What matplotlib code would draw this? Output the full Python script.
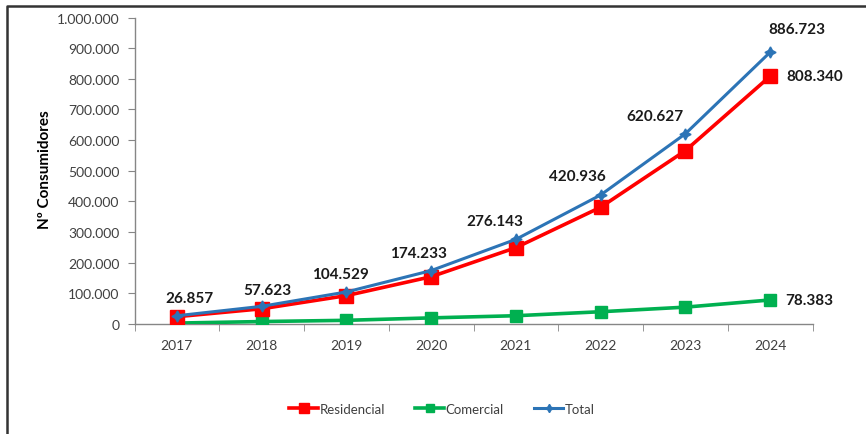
import matplotlib
matplotlib.use("Agg")
import matplotlib.pyplot as plt
from matplotlib.lines import Line2D
from matplotlib.ticker import FuncFormatter, FixedLocator, MultipleLocator

plt.rcParams['font.family'] = ['Lato', 'DejaVu Sans']

years = ['2017', '2018', '2019', '2020', '2021', '2022', '2023', '2024']
residencial = [23857, 49623, 92529, 154233, 249143, 380936, 565627, 808340]
comercial = [3000, 8000, 12000, 20000, 27000, 40000, 55000, 78383]
total = [26857, 57623, 104529, 174233, 276143, 420936, 620627, 886723]

# label offsets (points) for the Total series annotations
total_label_offsets = [(9, 13), (4, 12), (-4, 13), (-9, 13), (-15, 13), (-17, 14), (-22, 13), (19, 17)]

W, H = 866, 435
fig = plt.figure(figsize=(W / 100, H / 100), dpi=100)
ax = fig.add_axes([134.5 / W, 1 - 325 / H, (812.5 - 134.5) / W, (325 - 18.5) / H])

x = list(range(len(years)))
blue = '#2C74B6'
red = '#FF0000'
green = '#00B050'

ax.plot(x, comercial, color=green, lw=2.6, marker='s', ms=8, mec=green, zorder=3, label='Comercial')
ax.plot(x, residencial, color=red, lw=2.6, marker='s', ms=10, mec=red, zorder=4, label='Residencial')
ax.plot(x, total, color=blue, lw=2.2, marker=(4, 1, 0), ms=8, mec=blue, zorder=5, label='Total')

ax.set_xlim(-0.5, len(years) - 0.5)
ax.set_ylim(0, 1000000)

def fmt(v):
    return f"{int(round(v)):,}".replace(',', '.')

ax.yaxis.set_major_locator(MultipleLocator(100000))
ax.yaxis.set_major_formatter(FuncFormatter(lambda v, p: fmt(v)))
ax.set_xticks(x)
ax.set_xticklabels(years)
ax.xaxis.set_minor_locator(FixedLocator([i - 0.5 for i in range(len(years) + 1)]))
ax.tick_params(axis='x', which='major', length=0, pad=11, labelsize=10, labelcolor='#404040')
ax.tick_params(axis='x', which='minor', length=5, color='#868686', direction='out')
ax.tick_params(axis='y', length=5, color='#868686', direction='out', labelsize=10, labelcolor='#404040', pad=6)

for s in ['top', 'right']:
    ax.spines[s].set_visible(False)
for s in ['left', 'bottom']:
    ax.spines[s].set_color('#868686')
    ax.spines[s].set_linewidth(1.0)

for i, v in enumerate(total):
    dx, dy = total_label_offsets[i]
    ax.annotate(fmt(v), (x[i], v), xytext=(dx, dy), textcoords='offset points',
                ha='center', va='center', fontsize=11, fontweight='bold', color='#1a1a1a')

ax.annotate(fmt(residencial[-1]), (x[-1], residencial[-1]), xytext=(12, 0), textcoords='offset points',
            ha='left', va='center', fontsize=11, fontweight='bold', color='#1a1a1a')
ax.annotate(fmt(comercial[-1]), (x[-1], comercial[-1]), xytext=(11, 0), textcoords='offset points',
            ha='left', va='center', fontsize=11, fontweight='bold', color='#1a1a1a')

fig.text(45 / W, 1 - 170 / H, 'Nº Consumidores', rotation=90, ha='center', va='center',
         fontsize=11, fontweight='bold', color='#000000')

# legend entries with smaller markers
leg_handles = [
    Line2D([], [], color=red, lw=2.6, marker='s', ms=7, mec=red),
    Line2D([], [], color=green, lw=2.6, marker='s', ms=6, mec=green),
    Line2D([], [], color=blue, lw=2.2, marker=(4, 1, 0), ms=6, mec=blue),
]
leg = fig.legend(leg_handles, ['Residencial', 'Comercial', 'Total'],
                 loc='center', bbox_to_anchor=(442 / W, 1 - 410 / H), ncol=3, frameon=False,
                 fontsize=9.5, handlelength=2.2, handletextpad=0.1, columnspacing=2.3)
for t in leg.get_texts():
    t.set_color('#404040')

# outer frame
fig.add_artist(Line2D([7 / W, 7 / W, 1.0], [0.0, 1 - 7 / H, 1 - 7 / H],
                      transform=fig.transFigure, color='#333333', lw=1.8))

fig.savefig('out.png', dpi=100)
